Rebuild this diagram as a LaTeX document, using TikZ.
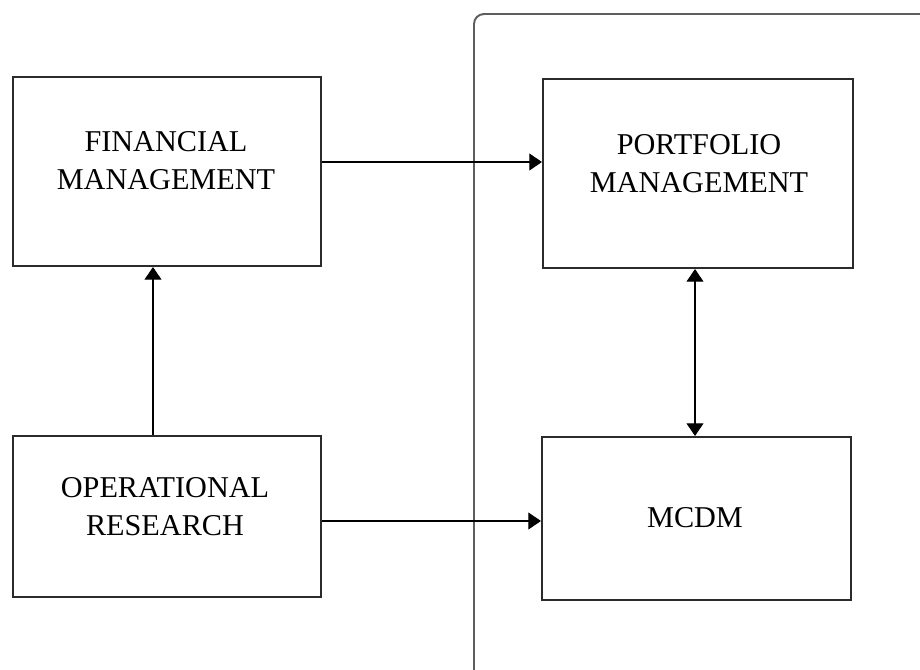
\documentclass[tikz,border=0pt]{standalone}
\usepackage{fontspec}
\setmainfont{Liberation Serif}
\usetikzlibrary{arrows.meta}

\definecolor{boxline}{HTML}{2B2B2B}
\definecolor{groupline}{HTML}{5E5E5E}

\tikzset{
  caixa/.style={draw=boxline, line width=1.4pt, inner sep=0pt, minimum width=7.7cm},
  rotulo/.style={align=center, inner sep=0pt, font=\fontsize{21.5pt}{27pt}\selectfont},
  seta/.style={line width=0.8pt, -{Triangle[length=9pt, width=12pt]}},
}

\begin{document}
\begin{tikzpicture}[x=0.025cm, y=-0.025cm]

  % Margens da figura
  \useasboundingbox (0,0) rectangle (920,670);

  % Grupo da direita (cortado na borda)
  \begin{scope}
    \clip (0,0) rectangle (920,670);
    \draw[groupline, line width=1.4pt, rounded corners=0.25cm] (474,14) rectangle (940,680);
  \end{scope}

  % Caixas
  \node[caixa, minimum height=4.725cm] (fin) at (167,171.5) {};
  \node[caixa, minimum height=4.025cm] (opr) at (167,516.5) {};
  \node[caixa, minimum width=7.75cm, minimum height=4.725cm] (port) at (698,173.5) {};
  \node[caixa, minimum width=7.725cm, minimum height=4.075cm] (mcdm) at (696.5,518.5) {};

  % Textos das caixas
  \node[rotulo] (fin-t) at (166,161) {FINANCIAL\\MANAGEMENT};
  \node[rotulo] (opr-t) at (165,507) {OPERATIONAL\\RESEARCH};
  \node[rotulo] (port-t) at (699,164) {PORTFOLIO\\MANAGEMENT};
  \node[rotulo] (mcdm-t) at (695,518) {MCDM};

  % Ligacoes
  \draw[seta] (fin.east |- 0,162) -- (port.west |- 0,162);
  \draw[seta] (opr.north -| 153,0) -- (fin.south -| 153,0);
  \draw[seta] (opr.east |- 0,521) -- (mcdm.west |- 0,521);
  \draw[seta, {Triangle[length=9pt, width=12pt]}-{Triangle[length=9pt, width=12pt]}]
    (port.south -| 695,0) -- (mcdm.north -| 695,0);

\end{tikzpicture}
\end{document}
